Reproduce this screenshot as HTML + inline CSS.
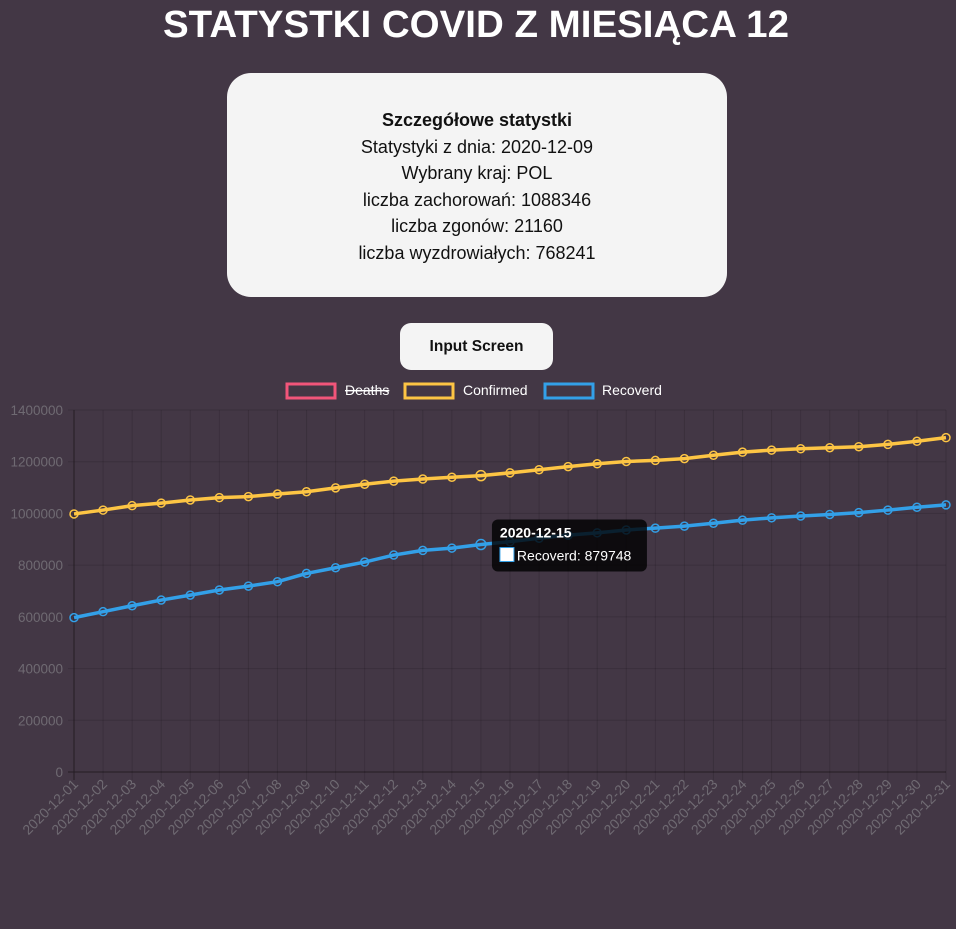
<!DOCTYPE html>
<html><head><meta charset="utf-8"><style>
html,body{margin:0;padding:0;background:#433745;width:956px;height:929px;overflow:hidden;font-family:"Liberation Sans",sans-serif}
#title{position:absolute;left:0;top:0}
#box{position:absolute;left:227px;top:73px;width:500px;height:224px;background:#f4f4f4;border-radius:24px;text-align:center;color:#111;font-size:18px;line-height:26.5px;box-sizing:border-box;padding-top:34px}
#box b{font-size:18px}
#btn{position:absolute;left:400px;top:323px;width:153px;height:47px;background:#f4f4f4;border-radius:11px;font-weight:bold;font-size:15.5px;line-height:47px;text-align:center;color:#111}
#chart{position:absolute;left:0;top:375px}
</style></head><body>
<svg id="title" width="956" height="60"><text x="476" y="37" text-anchor="middle" font-family="Liberation Sans, sans-serif" font-weight="bold" font-size="38" fill="#fff" textLength="626" lengthAdjust="spacingAndGlyphs">STATYSTKI COVID Z MIESIĄCA 12</text></svg>
<div id="box">
<b>Szczegółowe statystki</b><br>
<span>Statystyki z dnia: 2020-12-09</span><br>
<span>Wybrany kraj: POL</span><br>
<span>liczba zachorowań: 1088346</span><br>
<span>liczba zgonów: 21160</span><br>
<span>liczba wyzdrowiałych: 768241</span>
</div>
<div id="btn">Input Screen</div>
<svg id="chart" width="956" height="554"></svg>
<script>
const categories=[];for(let d=1;d<=31;d++)categories.push('2020-12-'+String(d).padStart(2,'0'));
const confirmed=[998000,1013000,1030000,1040000,1052000,1061000,1065000,1075000,1084000,1099000,1113000,1125000,1133000,1140000,1146000,1157000,1169000,1181000,1192000,1201000,1205000,1212000,1225000,1237000,1245000,1250000,1254000,1258000,1267000,1279000,1293000];
const recovered=[597000,620000,643000,665000,684000,704000,719000,736000,768000,790000,812000,839000,857000,866000,879748,891000,904000,916000,925000,936000,943000,951000,962000,974000,983000,990000,996000,1003000,1013000,1024000,1033000];
const deaths=[];
const yTicks=[0,200000,400000,600000,800000,1000000,1200000,1400000];
const NS='http://www.w3.org/2000/svg';
const svg=document.getElementById('chart');
const OY=375,L=74,R=946,T=410-OY,B=772-OY,YMAX=1400000;
function X(i){return L+i*(R-L)/(categories.length-1);}
function Y(v){return B-(v/YMAX)*(B-T);}
function mk(tag,at,parent){const e=document.createElementNS(NS,tag);for(const k in at)e.setAttribute(k,at[k]);(parent||svg).appendChild(e);return e;}
yTicks.forEach(v=>{
 const g=mk('line',{x1:L-6,x2:R,y1:Y(v),y2:Y(v),stroke:v===0?'#241c23':'rgba(0,0,0,0.13)','stroke-width':1});
 
 
 const t=mk('text',{x:L-11,y:Y(v)+5,'text-anchor':'end','font-size':13.5,fill:'#6f6a72'});
 t.textContent=v;
 
 
});
categories.forEach((c,i)=>{
 const g=mk('line',{x1:X(i),x2:X(i),y1:T,y2:B+8,stroke:i===0?'#241c23':'rgba(0,0,0,0.13)','stroke-width':1});
 
 
 const t=mk('text',{x:0,y:0,'text-anchor':'end','font-size':14,fill:'#6f6a72',transform:`translate(${X(i)+5},${B+13}) rotate(-45)`});
 t.textContent=c;
 
 
});
function series(vals,color,name){
 const p=mk('polyline',{points:vals.map((v,i)=>X(i)+','+Y(v)).join(' '),fill:'none',stroke:color,'stroke-width':3.5,'stroke-linejoin':'round'});
 
 
 vals.forEach((v,i)=>{
  const c=mk('circle',{cx:X(i),cy:Y(v),r:i===14?5:4,fill:'none',stroke:color,'stroke-width':1.5});
  
  
 });
}
series(confirmed,'#fdc544','confirmed');
series(recovered,'#33a0e8','recovered');
const leg=[['Deaths','#f2557a',286,345,true],['Confirmed','#fdc544',404,463,false],['Recoverd','#33a0e8',544,602,false]];
leg.forEach(l=>{
 const r=mk('rect',{x:l[2]+1,y:383-OY+1,width:48,height:14,fill:'none',stroke:l[1],'stroke-width':3});
 
 
 const t=mk('text',{x:l[3],y:395-OY,'font-size':14,fill:'#fff'});
 t.textContent=l[0];
 if(l[4])t.setAttribute('text-decoration','line-through');
 
 
});
const ti=14,tx=X(ti)+15,ty=Y(recovered[ti])-25;
const tg=mk('g',{});


mk('rect',{x:tx-4,y:ty,width:155,height:52,rx:6,fill:'rgba(0,0,0,0.8)'},tg);
const t1=mk('text',{x:tx+4,y:ty+18,'font-size':14,'font-weight':'bold',fill:'#fff'},tg);t1.textContent=categories[ti];
mk('rect',{x:tx+4,y:ty+28,width:14,height:14,fill:'#fff',stroke:'#33a0e8','stroke-width':1},tg);
const t2=mk('text',{x:tx+21,y:ty+41,'font-size':14,fill:'#fff'},tg);t2.textContent='Recoverd: '+recovered[ti];
</script>
</body></html>
